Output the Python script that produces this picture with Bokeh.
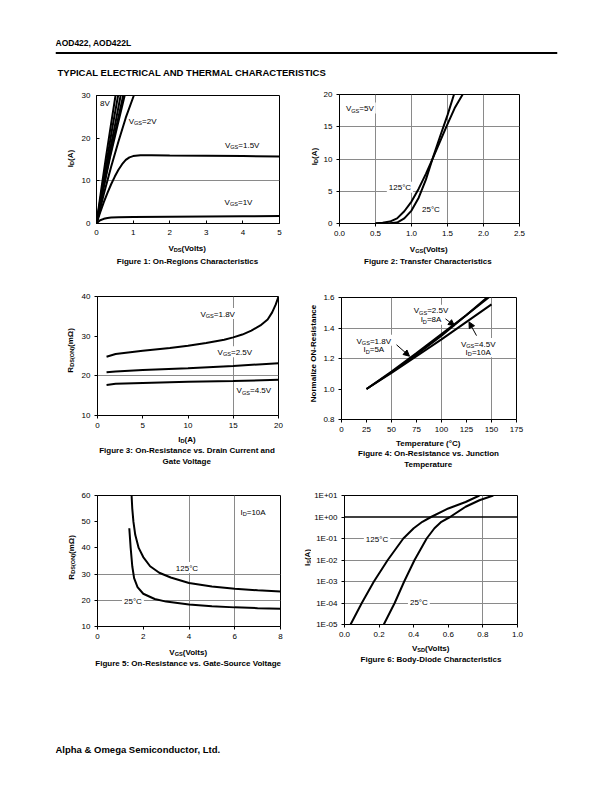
import math
from bokeh.plotting import figure
from bokeh.layouts import column, row
from bokeh.models import (Label, FixedTicker, PrintfTickFormatter, Span, Arrow,
                          NormalHead, Range1d)
from bokeh.embed import file_html
from bokeh.resources import INLINE

FONT = "Liberation Sans"

# ------------------------------------------------------------------ data
# Figure 1: On-region characteristics  ID (A) vs VDS (V)
f1_vds_8v = [0, 0.13, 0.26, 0.39, 0.52]
f1_id_8v = [0, 8.0, 15.6, 22.9, 30.0]
f1_vds_4v5 = [0, 0.15, 0.30, 0.44, 0.59]
f1_id_4v5 = [0, 8.0, 15.6, 22.8, 30.0]
f1_vds_3v5 = [0, 0.165, 0.33, 0.50, 0.66]
f1_id_3v5 = [0, 8.0, 15.6, 22.8, 30.0]
f1_vds_3v = [0, 0.18, 0.36, 0.55, 0.73]
f1_id_3v = [0, 8.1, 15.7, 23.0, 30.0]
f1_vds_2v5 = [0, 0.19, 0.38, 0.58, 0.77]
f1_id_2v5 = [0, 8.2, 15.9, 23.2, 30.0]
f1_vds_2v = [0, 0.2, 0.4, 0.6, 0.8, 1.02]
f1_id_2v = [0, 6.9, 13.3, 19.2, 24.8, 30.0]
f1_vds_1v5 = [0, 0.1, 0.2, 0.3, 0.4, 0.5, 0.6, 0.7, 0.8, 0.9, 1.0, 1.2, 1.5, 2, 3, 4, 5]
f1_id_1v5 = [0, 2.6, 5.0, 7.2, 9.2, 11.0, 12.6, 13.9, 14.9, 15.5, 15.8, 16.0, 16.0, 15.95, 15.9, 15.8, 15.7]
f1_vds_1v = [0, 0.05, 0.1, 0.2, 0.3, 0.4, 0.6, 1, 2, 3, 4, 5]
f1_id_1v = [0, 0.4, 0.75, 1.1, 1.3, 1.4, 1.45, 1.5, 1.6, 1.65, 1.7, 1.75]

# Figure 2: Transfer characteristics  ID (A) vs VGS (V)
f2_vgs_25c = [0.5, 0.6, 0.7, 0.8, 0.9, 1.0, 1.1, 1.2, 1.3, 1.4, 1.5, 1.59]
f2_id_25c = [0, 0.0, 0.03, 0.15, 0.8, 2.0, 4.0, 6.8, 10.3, 13.6, 16.8, 20.0]
f2_vgs_125c = [0.5, 0.6, 0.7, 0.8, 0.9, 1.0, 1.1, 1.2, 1.3, 1.4, 1.5, 1.6, 1.71]
f2_id_125c = [0.02, 0.1, 0.3, 0.8, 1.9, 3.4, 5.4, 7.7, 10.2, 12.8, 15.4, 17.9, 20.0]

# Figure 3: RDS(ON) (mOhm) vs ID (A)
f3_id = [1, 2, 5, 8, 10, 12, 14, 15, 16, 17, 18, 18.8, 19.3, 19.7, 20]
f3_r_1v8 = [24.8, 25.5, 26.3, 27.0, 27.6, 28.3, 29.1, 29.7, 30.4, 31.4, 32.7, 34.2, 36.0, 38.0, 40.0]
f3_id_b = [1, 2, 5, 10, 15, 20]
f3_r_2v5 = [20.9, 21.1, 21.5, 21.9, 22.5, 23.2]
f3_r_4v5 = [17.7, 18.0, 18.2, 18.5, 18.7, 19.0]

# Figure 4: Normalized on-resistance vs junction temperature (C)
f4_t = [25, 50, 75, 100, 125, 150]
f4_r_1v8 = [1.0, 1.115, 1.235, 1.36, 1.485, 1.615]
f4_r_2v5 = [1.0, 1.11, 1.225, 1.35, 1.485, 1.625]
f4_r_4v5 = [1.0, 1.105, 1.215, 1.325, 1.44, 1.555]

# Figure 5: RDS(ON) (mOhm) vs VGS (V)
f5_vgs_125c = [1.49, 1.52, 1.57, 1.65, 1.8, 2.0, 2.3, 2.7, 3.2, 4, 5, 6, 7, 8]
f5_r_125c = [60, 55, 50, 45, 40, 36.5, 33, 30.5, 28.7, 26.6, 25.3, 24.4, 23.8, 23.4]
f5_vgs_25c = [1.39, 1.45, 1.52, 1.6, 1.75, 2.0, 2.5, 3, 4, 5, 6, 7, 8]
f5_r_25c = [47.5, 40, 33, 28.5, 25, 22.5, 20.5, 19.5, 18.4, 17.7, 17.3, 17.0, 16.8]

# Figure 6: Body diode  IS (A) vs VSD (V)
f6_vsd_125c = [0.035, 0.1, 0.17, 0.25, 0.34, 0.40, 0.45, 0.5, 0.6, 0.7, 0.78]
f6_is_125c = [1e-5, 1e-4, 1e-3, 1e-2, 1e-1, 0.3, 0.6, 1.0, 2.5, 5.0, 10.0]
f6_vsd_25c = [0.227, 0.29, 0.345, 0.405, 0.475, 0.52, 0.56, 0.61, 0.70, 0.78, 0.86]
f6_is_25c = [1e-5, 1e-4, 1e-3, 1e-2, 1e-1, 0.3, 0.6, 1.0, 3.0, 6.0, 10.0]
f6_ticks = [1e-5, 1e-4, 1e-3, 1e-2, 1e-1, 1.0, 10.0]
f6_tick_labels = ["1E-05", "1E-04", "1E-03", "1E-02", "1E-01", "1E+00", "1E+01"]

# ------------------------------------------------------------------ text helpers
REG = {' ': 278, '(': 333, ')': 333, '.': 278, ',': 278, '-': 333, '=': 584, '+': 584,
       ':': 278, '°': 400, '&': 667, 'A': 667, 'B': 667, 'C': 722, 'D': 722, 'E': 667,
       'F': 611, 'G': 778, 'H': 722, 'I': 278, 'L': 556, 'M': 833, 'N': 722, 'O': 778,
       'P': 667, 'R': 722, 'S': 667, 'T': 611, 'V': 667, 'Y': 667, 'Ω': 768, 'a': 556,
       'c': 500, 'd': 556, 'e': 556, 'g': 556, 'h': 556, 'i': 222, 'l': 222, 'm': 833,
       'n': 556, 'o': 556, 'p': 556, 'r': 333, 's': 500, 't': 278, 'u': 556, 'v': 500,
       'y': 500, 'z': 500}
BOLD = {' ': 278, '(': 333, ')': 333, '.': 278, ',': 278, '-': 333, '=': 584, '+': 584,
        ':': 333, '°': 400, '&': 722, 'A': 722, 'B': 722, 'C': 722, 'D': 722, 'E': 667,
        'F': 611, 'G': 778, 'H': 722, 'I': 278, 'L': 611, 'M': 833, 'N': 722, 'O': 778,
        'P': 667, 'R': 722, 'S': 667, 'T': 611, 'V': 667, 'Y': 667, 'Ω': 768, 'a': 556,
        'c': 556, 'd': 611, 'e': 556, 'g': 611, 'h': 611, 'i': 278, 'l': 278, 'm': 889,
        'n': 611, 'o': 611, 'p': 611, 'r': 389, 's': 556, 't': 333, 'u': 611, 'v': 556,
        'y': 556, 'z': 500}

ROT_SHIFT = -15.0   # empirical along-text correction for rotated labels


def tw(s, size, bold):
    tbl = BOLD if bold else REG
    return sum(tbl.get(c, 556) for c in s) * size / 1000.0


def rich(p, x, y, parts, size=8.0, bold=False, align="center", angle=0.0,
         units="data", bg=False):
    sub = size * 0.7
    widths = [tw(t, sub if s else size, bold) for t, s in parts]
    total = sum(widths)
    start = {"center": -total / 2.0, "left": 0.0, "right": -total}[align]
    if angle != 0.0:
        start += ROT_SHIFT
    if bg:
        p.rect(x=[x], y=[y], width=[total + 4], height=[size + 3],
               width_units="screen", height_units="screen",
               fill_color="white", line_color=None)
    ca, sa = math.cos(angle), math.sin(angle)
    pos = start
    for (t, s), w in zip(parts, widths):
        drop = 0.1 * size + (0.22 * size if s else 0.0)
        xo = pos * ca + drop * sa
        yo = pos * sa - drop * ca
        p.add_layout(Label(x=x, y=y, x_units=units, y_units=units,
                           x_offset=xo, y_offset=yo, text=t, angle=angle,
                           text_align="left", text_baseline="alphabetic",
                           text_font=FONT, text_font_size=f"{sub if s else size:.2f}px",
                           text_font_style="bold" if bold else "normal",
                           text_color="black"))
        pos += w


def make_fig(w, h, xr, yr, left, fw, top, fh, y_log=False):
    p = figure(width=w, height=h, x_range=Range1d(*xr), y_range=Range1d(*yr),
               y_axis_type="log" if y_log else "linear",
               output_backend="svg", toolbar_location=None,
               min_border_left=left, min_border_right=w - left - fw,
               min_border_top=top, min_border_bottom=h - top - fh)
    p.outline_line_color = "black"
    p.outline_line_width = 1
    p.background_fill_color = "white"
    p.border_fill_color = "white"
    return p


def text_fig(w, h, frame_left=0, frame_right=0):
    p = figure(width=w, height=h, x_range=Range1d(0, w - frame_left - frame_right),
               y_range=Range1d(0, h),
               min_border_left=frame_left, min_border_right=frame_right,
               min_border_top=0, min_border_bottom=0,
               x_axis_location=None, y_axis_location=None,
               output_backend="svg", toolbar_location=None)
    p.grid.visible = False
    p.outline_line_color = None
    p.border_fill_color = "white"
    p.background_fill_color = "white"
    return p


def style(p, xt, yt, xg, yg, xfmt=None, yfmt=None, tin=0, tout=3, ylabels=None):
    p.xaxis.ticker = FixedTicker(ticks=xt)
    p.yaxis.ticker = FixedTicker(ticks=yt)
    if xfmt:
        p.xaxis.formatter = PrintfTickFormatter(format=xfmt)
    if yfmt:
        p.yaxis.formatter = PrintfTickFormatter(format=yfmt)
    if ylabels:
        p.yaxis.major_label_overrides = ylabels
    for ax in (p.xaxis[0], p.yaxis[0]):
        ax.major_label_text_font = FONT
        ax.major_label_text_font_size = "8px"
        ax.major_label_text_color = "black"
        ax.axis_line_color = "black"
        ax.major_tick_line_color = "black"
        ax.major_tick_in = tin
        ax.major_tick_out = tout
        ax.minor_tick_line_color = None
        ax.major_label_standoff = 4 if tout else 6
    if xg:
        p.xgrid.ticker = FixedTicker(ticks=xg)
        p.xgrid.grid_line_color = "#8a8a8a"
    else:
        p.xgrid.grid_line_color = None
    if yg:
        p.ygrid.ticker = FixedTicker(ticks=yg)
        p.ygrid.grid_line_color = "#8a8a8a"
    else:
        p.ygrid.grid_line_color = None


def vs(name):
    return [(name[0], 0), (name[1:], 1)]


def ylab(w, h, sx, sy, parts):
    f = text_fig(w, h)
    rich(f, sx, sy, parts, BS, True, angle=math.pi / 2, units="screen")
    return f


LW = 2
BS = 8  # bold label size
ID_A = [("I", 0), ("D", 1), ("(A)", 0)]
RDS = [("R", 0), ("DS(ON)", 1), ("(mΩ)", 0)]

# ------------------------------------------------------------------ figure 1
p1 = make_fig(222, 161, (0, 5), (0, 30), 17, 184, 15, 128)
style(p1, [0, 1, 2, 3, 4, 5], [0, 10, 20, 30], None, [10], tin=3, tout=0)
for xs, ys in [(f1_vds_8v, f1_id_8v), (f1_vds_4v5, f1_id_4v5), (f1_vds_3v5, f1_id_3v5),
               (f1_vds_3v, f1_id_3v), (f1_vds_2v5, f1_id_2v5), (f1_vds_2v, f1_id_2v),
               (f1_vds_1v5, f1_id_1v5), (f1_vds_1v, f1_id_1v)]:
    p1.line(xs, ys, line_color="black", line_width=LW)
rich(p1, 0.23, 28.4, [("8V", 0)])
rich(p1, 1.29, 24.1, vs("VGS") + [(" =2V", 0)])
rich(p1, 4.01, 18.5, vs("VGS") + [(" =1.5V", 0)])
rich(p1, 3.91, 5.2, vs("VGS") + [(" =1V", 0)])
yl1 = ylab(78, 161, 69, 80, ID_A)
s1 = text_fig(300, 39)
rich(s1, 187, 33, vs("VDS") + [("(Volts)", 0)], BS, True, units="screen")
rich(s1, 187, 20, [("Figure 1: On-Regions Characteristics", 0)], BS, True, units="screen")

# ------------------------------------------------------------------ figure 2
p2 = make_fig(284, 161, (0, 2.5), (0, 20), 18, 181, 14, 129)
style(p2, [0, 0.5, 1.0, 1.5, 2.0, 2.5], [0, 5, 10, 15, 20], [0.5, 1.0, 1.5, 2.0],
      [5, 10, 15], xfmt="%.1f")
rich(p2, 0.283, 17.9, vs("VGS") + [("=5V", 0)], bg=True)
rich(p2, 0.84, 5.63, [("125°C", 0)], bg=True)
rich(p2, 1.27, 2.37, [("25°C", 0)], bg=True)
p2.line(f2_vgs_25c, f2_id_25c, line_color="black", line_width=LW)
p2.line(f2_vgs_125c, f2_id_125c, line_color="black", line_width=LW)
yl2 = ylab(20, 161, 13, 82, ID_A)
s2 = text_fig(304, 39)
rich(s2, 128.5, 32, vs("VGS") + [("(Volts)", 0)], BS, True, units="screen")
rich(s2, 128.5, 20, [("Figure 2: Transfer Characteristics", 0)], BS, True, units="screen")

# ------------------------------------------------------------------ figure 3
p3 = make_fig(222, 153, (0, 20), (10, 40), 17, 183, 16, 119)
style(p3, [0, 5, 10, 15, 20], [10, 20, 30, 40], [15], [20])
rich(p3, 13.4, 35.7, vs("VGS") + [(" =1.8V", 0)], bg=True)
rich(p3, 15.3, 26.1, vs("VGS") + [(" =2.5V", 0)], bg=True)
rich(p3, 17.4, 16.4, vs("VGS") + [(" =4.5V", 0)], bg=True)
p3.line(f3_id, f3_r_1v8, line_color="black", line_width=LW)
p3.line(f3_id_b, f3_r_2v5, line_color="black", line_width=LW)
p3.line(f3_id_b, f3_r_4v5, line_color="black", line_width=LW)
yl3 = ylab(78, 153, 69, 80, RDS)
s3 = text_fig(300, 47)
rich(s3, 186.5, 42, ID_A, BS, True, units="screen")
rich(s3, 186.5, 31, [("Figure 3: On-Resistance vs. Drain Current and", 0)], BS, True, units="screen")
rich(s3, 186.5, 20, [("Gate Voltage", 0)], BS, True, units="screen")

# ------------------------------------------------------------------ figure 4
p4 = make_fig(284, 157, (0, 175), (0.8, 1.6), 20, 176, 17, 122)
style(p4, [0, 25, 50, 75, 100, 125, 150, 175], [0.8, 1.0, 1.2, 1.4, 1.6],
      [50, 100, 150], [1.2, 1.4], yfmt="%.1f")
rich(p4, 89.5, 1.517, vs("VGS") + [("=2.5V", 0)], bg=True)
rich(p4, 89.5, 1.458, vs("ID") + [("=8A", 0)], bg=True)
rich(p4, 32.3, 1.32, vs("VGS") + [("=1.8V", 0)], bg=True)
rich(p4, 32.3, 1.261, vs("ID") + [("=5A", 0)], bg=True)
rich(p4, 136.7, 1.298, vs("VGS") + [("=4.5V", 0)], bg=True)
rich(p4, 136.7, 1.244, vs("ID") + [("=10A", 0)], bg=True)
p4.line(f4_t, f4_r_4v5, line_color="black", line_width=LW)
p4.line(f4_t, f4_r_2v5, line_color="black", line_width=LW)
p4.line(f4_t, f4_r_1v8, line_color="black", line_width=LW)
for xs_, ys_, xe_, ye_ in [(104, 1.46, 113, 1.415), (55, 1.29, 68, 1.215), (135, 1.35, 127.5, 1.44)]:
    p4.add_layout(Arrow(end=NormalHead(size=6, fill_color="black", line_color="black"),
                        x_start=xs_, y_start=ys_, x_end=xe_, y_end=ye_,
                        line_color="black", line_width=1))
yl4 = ylab(20, 157, 12, 81, [("Normalize ON-Resistance", 0)])
s4 = text_fig(304, 43)
rich(s4, 128, 38, [("Temperature (°C)", 0)], BS, True, units="screen")
rich(s4, 128, 28, [("Figure 4: On-Resistance vs. Junction", 0)], BS, True, units="screen")
rich(s4, 128, 17, [("Temperature", 0)], BS, True, units="screen")

# ------------------------------------------------------------------ figure 5
p5 = make_fig(222, 164, (0, 8), (10, 60), 18, 184, 15, 131)
style(p5, [0, 2, 4, 6, 8], [10, 20, 30, 40, 50, 60], [4, 6], [20, 30])
rich(p5, 6.8, 53.9, vs("ID") + [("=10A", 0)])
rich(p5, 3.91, 32.5, [("125°C", 0)], bg=True)
rich(p5, 1.55, 19.8, [("25°C", 0)], bg=True)
p5.line(f5_vgs_125c, f5_r_125c, line_color="black", line_width=LW)
p5.line(f5_vgs_25c, f5_r_25c, line_color="black", line_width=LW)
yl5 = ylab(78, 164, 70, 84, RDS)
s5 = text_fig(300, 36)
rich(s5, 188, 29, vs("VGS") + [("(Volts)", 0)], BS, True, units="screen")
rich(s5, 188, 18, [("Figure 5: On-Resistance vs. Gate-Source Voltage", 0)], BS, True, units="screen")

# ------------------------------------------------------------------ figure 6
p6 = make_fig(293, 162, (0, 1.0), (1e-5, 10), 33, 173, 15, 129, y_log=True)
style(p6, [0, 0.2, 0.4, 0.6, 0.8, 1.0], f6_ticks, [0.8], f6_ticks[1:5], xfmt="%.1f",
      ylabels=dict(zip(f6_ticks, f6_tick_labels)))
p6.add_layout(Span(location=f6_ticks[5], dimension="width", line_color="black", line_width=1.5))
rich(p6, 0.188, 0.1, [("125°C", 0)], bg=True)
rich(p6, 0.43, 1.14e-4, [("25°C", 0)], bg=True)
p6.line(f6_vsd_125c, f6_is_125c, line_color="black", line_width=LW)
p6.line(f6_vsd_25c, f6_is_25c, line_color="black", line_width=LW)
yl6 = ylab(11, 162, 6, 82, [("I", 0), ("S", 1), ("(A)", 0)])
s6 = text_fig(304, 38)
rich(s6, 130.5, 33, vs("VSD") + [("(Volts)", 0)], BS, True, units="screen")
rich(s6, 130.5, 22, [("Figure 6: Body-Diode Characteristics", 0)], BS, True, units="screen")

# ------------------------------------------------------------------ header / footer
hdr = text_fig(612, 80, 55, 55)
hdr.add_layout(Span(location=27.5, dimension="width", line_color="black", line_width=2))
rich(hdr, 0, 38, [("AOD422, AOD422L", 0)], 8.5, True, align="left", units="screen")
rich(hdr, 2, 9, [("TYPICAL ELECTRICAL AND THERMAL CHARACTERISTICS", 0)], 9.5, True,
     align="left", units="screen")

ftr = text_fig(612, 104, 55, 55)
rich(ftr, 0, 36, [("Alpha & Omega Semiconductor, Ltd.", 0)], 9.5, True, align="left", units="screen")

left_col = column(row(yl1, p1), s1, row(yl3, p3), s3, row(yl5, p5), s5)
right_col = column(row(yl2, p2), s2, row(yl4, p4), s4, row(yl6, p6), s6)
layout = column(hdr, row(left_col, right_col), ftr)
open("out.html", "w").write(file_html(layout, INLINE))
